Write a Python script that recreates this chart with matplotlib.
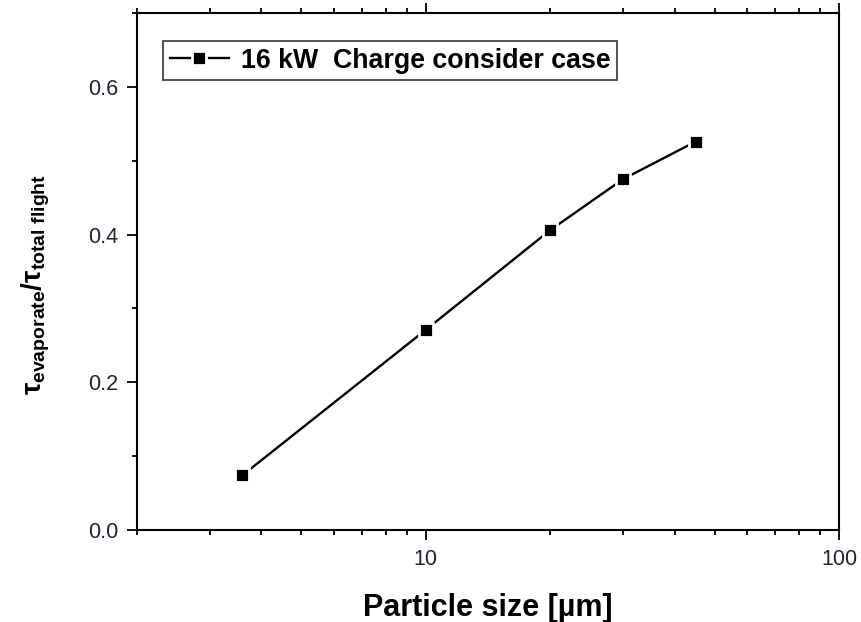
import matplotlib
matplotlib.use("Agg")
import matplotlib.pyplot as plt
from matplotlib.ticker import MultipleLocator, LogLocator, NullFormatter, FixedLocator, FixedFormatter

plt.rcParams['font.family'] = ['Liberation Sans', 'DejaVu Sans']
plt.rcParams['mathtext.fontset'] = 'custom'
plt.rcParams['mathtext.rm'] = 'Liberation Sans:bold'
plt.rcParams['mathtext.it'] = 'Liberation Sans:bold'
plt.rcParams['mathtext.bf'] = 'Liberation Sans:bold'

# particle size [um] vs. evaporation / total flight time ratio
size_um = [3.6, 10, 20, 30, 45]
tau_ratio = [0.074, 0.271, 0.406, 0.475, 0.526]
series_label = '16 kW  Charge consider case'

fig = plt.figure(figsize=(8.61, 6.22), dpi=100)
ax = fig.add_axes([0.159, 0.148, 0.8155, 0.831])

# white marker edge leaves the small gap between line and squares
ax.plot(size_um, tau_ratio, '-s', color='black', lw=1.7,
        ms=9.8, mfc='black', mec='white', mew=2.0, label=series_label)

ax.set_xscale('log')
ax.set_xlim(2, 100)
ax.set_ylim(0, 0.7)

ax.xaxis.set_major_locator(FixedLocator([10, 100]))
ax.xaxis.set_major_formatter(FixedFormatter(['10', '100']))
ax.xaxis.set_minor_locator(LogLocator(base=10, subs=range(2, 10)))
ax.xaxis.set_minor_formatter(NullFormatter())
ax.yaxis.set_major_locator(MultipleLocator(0.2))
ax.yaxis.set_minor_locator(MultipleLocator(0.1))
ax.yaxis.set_major_formatter(plt.FormatStrFormatter('%.1f'))

for s in ax.spines.values():
    s.set_linewidth(1.5)

ax.tick_params(axis='both', which='both', direction='out', width=1.3,
               labelsize=15.5, labelcolor='#222233', pad=6)
ax.tick_params(axis='both', which='major', length=7.5)
ax.tick_params(axis='both', which='minor', length=3.8)
ax.tick_params(axis='x', which='both', top=True, labeltop=False)
ax.tick_params(axis='y', which='both', right=False)

ax.set_xlabel('Particle size [µm]', fontsize=22, fontweight='bold', labelpad=17)
ax.set_ylabel(r'$\tau_{evaporate}/\tau_{total\ flight}$', fontsize=20)
ax.yaxis.set_label_coords(-0.121, 0.474)

leg = ax.legend(loc='upper left', bbox_to_anchor=(0.037, 0.946),
                prop={'weight': 'bold', 'size': 19.3}, frameon=True, fancybox=False,
                handlelength=2.2, handletextpad=0.45, borderpad=0.25,
                borderaxespad=0)
leg.get_frame().set_edgecolor('black')
leg.get_frame().set_linewidth(1.2)

fig.savefig('out.png', dpi=100)
